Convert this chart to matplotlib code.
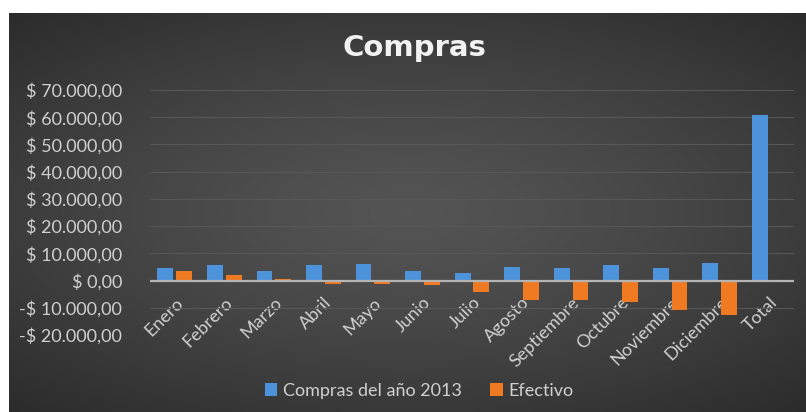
import numpy as np
import matplotlib
matplotlib.use("Agg")
import matplotlib.pyplot as plt
from matplotlib.ticker import FuncFormatter, MultipleLocator

categories = ["Enero", "Febrero", "Marzo", "Abril", "Mayo", "Junio", "Julio",
              "Agosto", "Septiembre", "Octubre", "Noviembre", "Diciembre", "Total"]
compras_2013 = [4500, 5600, 3650, 5600, 6200, 3550, 2900, 4900, 4500, 5600, 4500, 6600, 61000]
efectivo = [3550, 2200, 500, -1200, -1350, -1600, -4250, -7050, -7050, -8050, -10850, -12550, 0]
series_names = ["Compras del año 2013", "Efectivo"]

BLUE = "#4D93DB"
ORANGE = "#F07A21"
TXT = "#D0D0D0"
FONT = ["Lato", "DejaVu Sans"]

W, H = 806, 412
fig = plt.figure(figsize=(W / 100, H / 100), dpi=100)
fig.patch.set_facecolor("white")

# background panel with radial gradient
bg = fig.add_axes([9 / W, 0, (W - 9) / W, (H - 13) / H])
ny, nx = 200, 400
yy, xx = np.mgrid[-1:1:ny * 1j, -1:1:nx * 1j]
r = np.sqrt((xx * 0.9) ** 2 + (yy * 1.0) ** 2) / np.sqrt(0.81 + 1.0)
c0, c1 = 0.33, 0.17
val = c0 - (c0 - c1) * np.clip(r, 0, 1) ** 1.3
img = np.dstack([val, val, val])
bg.imshow(img, aspect="auto", extent=[0, 1, 0, 1], interpolation="bicubic")
bg.set_axis_off()

ax = fig.add_axes([150 / W, (H - 335) / H, 644 / W, 245 / H])
ax.set_facecolor("none")

x = np.arange(len(categories))
bw = 0.32
off = 0.19
ax.bar(x - off, compras_2013, bw, color=BLUE, label=series_names[0], zorder=3)
ax.bar(x + off, efectivo, bw, color=ORANGE, label=series_names[1], zorder=3)

ax.set_xlim(-0.5, len(categories) - 0.5)
ax.set_ylim(-20000, 70000)
ax.yaxis.set_major_locator(MultipleLocator(10000))


def fmt(v, pos):
    s = f"{abs(v):,.2f}".replace(",", "X").replace(".", ",").replace("X", ".")
    return ("-$ " if v < 0 else "$ ") + s


ax.yaxis.set_major_formatter(FuncFormatter(fmt))
ax.grid(axis="y", color="#575757", linewidth=0.8, zorder=0)
ax.axhline(0, color="#B4B4B4", linewidth=1.6, zorder=4)
ax.spines["bottom"].set_position(("data", 0))
for s in ax.spines.values():
    s.set_visible(False)
ax.tick_params(axis="both", length=0, colors=TXT)
ax.tick_params(axis="y", pad=20)
ax.set_xticks(x)
ax.set_xticklabels(categories, rotation=45, ha="right", va="top",
                   rotation_mode="anchor", fontsize=13, color=TXT, family=FONT)
for lbl in ax.get_yticklabels():
    lbl.set_fontsize(13)
    lbl.set_color(TXT)
    lbl.set_family(FONT)
ax.tick_params(axis="x", pad=10)

fig.text(414 / W, 1 - 47.5 / H, "Compras", ha="center", va="center",
         fontsize=21, fontweight="bold", color="#F2F2F2", family=["DejaVu Sans"])

leg = fig.legend(loc="center", bbox_to_anchor=(419 / W, 1 - 391 / H), ncol=2,
                 frameon=False, handlelength=0.7, handleheight=0.7,
                 handletextpad=0.3, columnspacing=1.6, prop={"family": FONT, "size": 13})
for t in leg.get_texts():
    t.set_color(TXT)

fig.savefig("out.png", dpi=100, facecolor=fig.get_facecolor())
